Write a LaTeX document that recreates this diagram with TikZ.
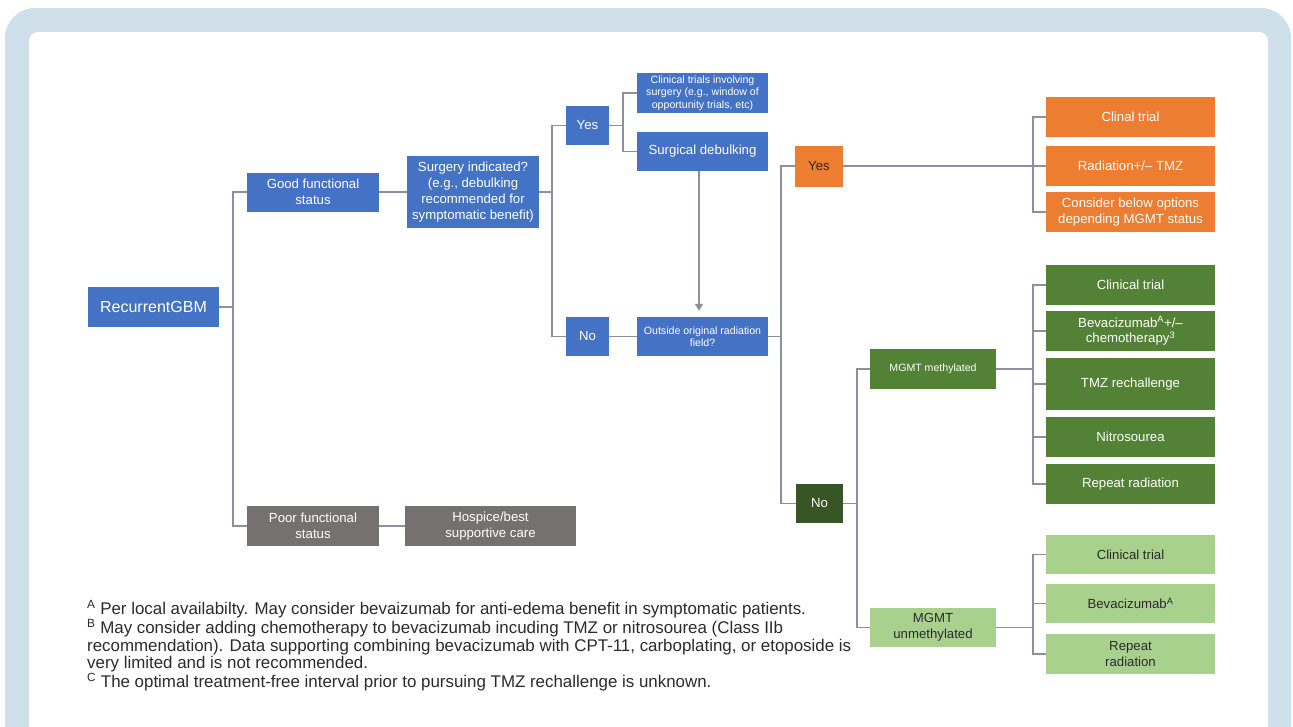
\documentclass[tikz,border=0pt]{standalone}
\usepackage{fontspec}
\setmainfont{Liberation Sans}
\usetikzlibrary{arrows.meta}
\definecolor{frameblue}{HTML}{CEDFE9}
\definecolor{boxblue}{HTML}{4472C4}
\definecolor{boxorange}{HTML}{ED7D31}
\definecolor{boxgreen}{HTML}{538135}
\definecolor{boxdkgreen}{HTML}{375623}
\definecolor{boxltgreen}{HTML}{A9D18E}
\definecolor{boxgray}{HTML}{767171}
\definecolor{linegray}{HTML}{8C8FA2}
\definecolor{txtdark}{HTML}{2B2B2B}
\begin{document}
\begin{tikzpicture}[x=1pt,y=-1pt,
  box/.style={draw=none, inner sep=0pt, align=center, text=white,
    font=\fontsize{13.2}{15.8}\selectfont},
  smalltxt/.style={font=\fontsize{10.6}{12.4}\selectfont},
  bluebox/.style={box, fill=boxblue},
  orangebox/.style={box, fill=boxorange},
  greenbox/.style={box, fill=boxgreen},
  dkgreenbox/.style={box, fill=boxdkgreen},
  ltgreenbox/.style={box, fill=boxltgreen, text=txtdark},
  graybox/.style={box, fill=boxgray},
  conn/.style={draw=linegray, line width=1.8pt},
  arrowconn/.style={conn, -{Triangle[width=8pt,length=7pt]}, shorten >=6pt}]
\useasboundingbox (0,0) rectangle (1293,726);
\begin{scope}
\clip (0,0) rectangle (1293,726);
\fill[frameblue, rounded corners=30pt] (5,8) rectangle (1291,790);
\fill[white, rounded corners=9pt] (29,32) rectangle (1268,790);
\end{scope}

% left part
\node[bluebox, minimum width=131pt, minimum height=40pt, font=\fontsize{16}{19}\selectfont] (gbm) at (153.5,307) {RecurrentGBM};
\node[bluebox, minimum width=132pt, minimum height=39pt] (good) at (313,192) {Good functional\\status};
\node[bluebox, minimum width=132pt, minimum height=72pt] (surg) at (473,192) {Surgery indicated?\\(e.g., debulking\\recommended for\\symptomatic benefit)};
\node[graybox, minimum width=132pt, minimum height=40pt] (poor) at (313,526) {Poor functional\\status};
\node[graybox, minimum width=171pt, minimum height=40pt] (hosp) at (490.5,526) {Hospice/best\\supportive care};

\node[bluebox, minimum width=43pt, minimum height=39pt] (yes1) at (587.5,125.5) {Yes};
\node[bluebox, minimum width=43pt, minimum height=39pt] (no1) at (587.5,336.5) {No};
\node[bluebox, smalltxt, minimum width=131pt, minimum height=40pt] (clin) at (702.5,93) {Clinical trials involving\\surgery (e.g., window of\\opportunity trials, etc)};
\node[bluebox, minimum width=131pt, minimum height=39pt] (debulk) at (702.5,151.5) {Surgical debulking};
\node[bluebox, smalltxt, minimum width=131pt, minimum height=39pt] (outside) at (702.5,336.5) {Outside original radiation\\field?};

% right part
\node[orangebox, text=txtdark, minimum width=48pt, minimum height=41pt] (yes2) at (819,166) {Yes};
\node[orangebox, minimum width=169pt, minimum height=40pt] (o1) at (1130.5,117) {Clinal trial};
\node[orangebox, minimum width=169pt, minimum height=40pt] (o2) at (1130.5,166) {Radiation+/– TMZ};
\node[orangebox, minimum width=169pt, minimum height=40pt] (o3) at (1130.5,212) {Consider below options\\depending MGMT status};

\node[dkgreenbox, minimum width=47pt, minimum height=39pt] (no2) at (819.5,503.5) {No};
\node[greenbox, smalltxt, minimum width=126pt, minimum height=40pt] (meth) at (933,369) {MGMT methylated};
\node[greenbox, minimum width=169pt, minimum height=40pt] (g1) at (1130.5,285) {Clinical trial};
\node[greenbox, minimum width=169pt, minimum height=40pt] (g2) at (1130.5,331) {Bevacizumab\textsuperscript{A}+/–\\chemotherapy\textsuperscript{3}};
\node[greenbox, minimum width=169pt, minimum height=52pt] (g3) at (1130.5,384) {TMZ rechallenge};
\node[greenbox, minimum width=169pt, minimum height=40pt] (g4) at (1130.5,437) {Nitrosourea};
\node[greenbox, minimum width=169pt, minimum height=40pt] (g5) at (1130.5,484) {Repeat radiation};

\node[ltgreenbox, minimum width=126pt, minimum height=39pt] (unmeth) at (933,627.5) {MGMT\\unmethylated};
\node[ltgreenbox, minimum width=169pt, minimum height=39pt] (l1) at (1130.5,554.5) {Clinical trial};
\node[ltgreenbox, minimum width=169pt, minimum height=39pt] (l2) at (1130.5,603.5) {Bevacizumab\textsuperscript{A}};
\node[ltgreenbox, minimum width=169pt, minimum height=40pt] (l3) at (1130.5,654) {Repeat\\radiation};

% connectors
\draw[conn] (gbm.east) -- ([xshift=14pt]gbm.east);
\draw[conn] (good.west) -| ([xshift=14pt]gbm.east);
\draw[conn] (poor.west) -| ([xshift=14pt]gbm.east);
\draw[conn] (good.east) -- (surg.west);
\draw[conn] (poor.east) -- (hosp.west);

\draw[conn] (surg.east) -- ([xshift=13pt]surg.east);
\draw[conn] (yes1.west) -| ([xshift=13pt]surg.east);
\draw[conn] (no1.west) -| ([xshift=13pt]surg.east);

\draw[conn] (yes1.east) -- ([xshift=14pt]yes1.east);
\draw[conn] (clin.west) -| ([xshift=14pt]yes1.east);
\draw[conn] (debulk.west) -| ([xshift=14pt]yes1.east);
\draw[arrowconn] ([xshift=-3.5pt]debulk.south) -- ([xshift=-3.5pt]outside.north);
\draw[conn] (no1.east) -- (outside.west);

\draw[conn] (outside.east) -- ([xshift=13pt]outside.east);
\draw[conn] (yes2.west) -| ([xshift=13pt]outside.east);
\draw[conn] (no2.west) -| ([xshift=13pt]outside.east);

\draw[conn] (yes2.east) -- (o2.west);
\draw[conn] (o1.west) -| ([xshift=-13pt]o2.west);
\draw[conn] (o3.west) -| ([xshift=-13pt]o2.west);

\draw[conn] (no2.east) -- ([xshift=14pt]no2.east);
\draw[conn] (meth.west) -| ([xshift=14pt]no2.east);
\draw[conn] (unmeth.west) -| ([xshift=14pt]no2.east);

\draw[conn] (meth.east) -- ([xshift=37pt]meth.east);
\foreach \n in {g1,g2,g3,g4,g5} \draw[conn] (\n.west) -| ([xshift=37pt]meth.east);
\draw[conn] (unmeth.east) -- ([xshift=37pt]unmeth.east);
\foreach \n in {l1,l2,l3} \draw[conn] (\n.west) -| ([xshift=37pt]unmeth.east);

% footnotes
\node[anchor=north west, inner sep=0pt, align=left, text=txtdark,
  font=\fontsize{16.9}{17.6}\selectfont] (notes) at (87,600)
  {\textsuperscript{A} Per local availabilty. May consider bevaizumab for anti-edema benefit in symptomatic patients.\\
   \textsuperscript{B} May consider adding chemotherapy to bevacizumab incuding TMZ or nitrosourea (Class IIb\\
   recommendation). Data supporting combining bevacizumab with CPT-11, carboplating, or etoposide is\\
   very limited and is not recommended.\\
   \textsuperscript{C} The optimal treatment-free interval prior to pursuing TMZ rechallenge is unknown.};
\end{tikzpicture}
\end{document}
